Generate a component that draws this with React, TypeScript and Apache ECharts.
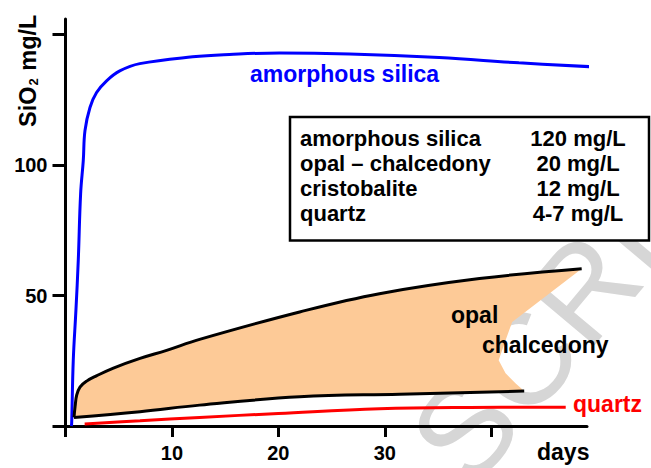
import React, { useEffect, useRef } from "react";
import * as echarts from "echarts";

// ---- data ----
const amorphousDays = [0.55, 0.58, 0.73, 0.98, 1.2, 1.42, 1.67, 1.83, 2.3, 2.92, 3.86, 5.1, 6.98, 11.95, 15.4, 20.1, 26.7, 35.1, 42.6, 49.4];
const amorphousVals = [0, 1.1, 25.2, 44.4, 63.5, 89, 101.7, 113.2, 122.1, 127.8, 132.3, 136.1, 138.9, 141.5, 142.4, 143, 142.6, 141.2, 139.2, 137.7];

const opalUpperDays = [0.8, 0.9, 1.05, 1.36, 1.99, 2.9, 4.5, 7, 9.5, 12.6, 22, 29.5, 38.9, 48.5];
const opalUpperVals = [3.3, 7.4, 11.8, 14.9, 17.2, 19.2, 22.2, 25.9, 29, 33.2, 43.7, 50.7, 56.5, 60.3];

const opalLowerDays = [0.8, 7, 12.6, 22, 31.4, 43.1];
const opalLowerVals = [3.3, 5.5, 8.0, 11.2, 12.2, 13.4];

// right (notched) edge of the shaded opal-chalcedony band, top to bottom
const notchDays = [41.97, 41.35, 40.7, 41.35, 42.3];
const notchVals = [39.9, 32.9, 25.2, 20.2, 16.3];

const quartzDays = [1.8, 7, 12.6, 20, 29.5, 38, 47];
const quartzVals = [0.8, 2, 3.3, 4.8, 6.6, 7.1, 7.2];

const xTicks = [0, 10, 20, 30, 40];
const xLabels = [10, 20, 30];
const yTicks = [0, 50, 100, 150];
const yLabels = [50, 100];

const legendNames = ["amorphous silica", "opal \u2013 chalcedony", "cristobalite", "quartz"];
const legendValues = ["120 mg/L", "20 mg/L", "12 mg/L", "4-7 mg/L"];

const FONT = "'Liberation Sans', Arial, Helvetica, sans-serif";

const zip = (a: number[], b: number[]) => a.map((v, i) => [v, b[i]]);

export default function App() {
  const ref = useRef<HTMLDivElement>(null);
  useEffect(() => {
    if (!ref.current) return;
    const chart = echarts.init(ref.current, undefined, { renderer: "svg" });

    const polyData = [
      ...zip(opalUpperDays, opalUpperVals),
      ...zip(notchDays, notchVals),
      ...zip(opalLowerDays, opalLowerVals).reverse(),
    ];

    const lineSeries = (name: string, data: number[][], color: string) => ({
      type: "line",
      name,
      data,
      smooth: 0.4,
      showSymbol: false,
      symbol: "none",
      clip: false,
      lineStyle: { color, width: 3 },
      z: 5,
    });

    const legendRowY = [138.5, 163, 188, 213];

    const graphics: any[] = [
      {
        type: "text",
        x: 537,
        y: 344,
        rotation: (50 * Math.PI) / 180,
        z: -10,
        silent: true,
        style: {
          text: "SCRI",
          font: `normal 130px ${FONT}`,
          fill: "#d6d6d6",
          align: "center",
          verticalAlign: "middle",
        },
      },
      {
        type: "rect",
        z: 50,
        shape: { x: 290, y: 117, width: 359, height: 123.5 },
        style: { fill: "#ffffff", stroke: "#000000", lineWidth: 2.5 },
      },
      ...legendNames.map((t, i) => ({
        type: "text",
        z: 51,
        x: 300,
        y: legendRowY[i],
        style: { text: t, font: `bold 22px ${FONT}`, fill: "#000", align: "left", verticalAlign: "middle" },
      })),
      ...legendValues.map((t, i) => ({
        type: "text",
        z: 51,
        x: 578,
        y: legendRowY[i],
        style: { text: t, font: `bold 22px ${FONT}`, fill: "#000", align: "center", verticalAlign: "middle" },
      })),
      {
        type: "text",
        z: 51,
        x: 250,
        y: 74,
        style: { text: "amorphous silica", font: `bold 23px ${FONT}`, fill: "#0000ff", align: "left", verticalAlign: "middle" },
      },
      {
        type: "text",
        z: 51,
        x: 451,
        y: 315,
        style: { text: "opal", font: `bold 23px ${FONT}`, fill: "#000", align: "left", verticalAlign: "middle" },
      },
      {
        type: "text",
        z: 51,
        x: 482,
        y: 345,
        style: { text: "chalcedony", font: `bold 23px ${FONT}`, fill: "#000", align: "left", verticalAlign: "middle" },
      },
      {
        type: "text",
        z: 51,
        x: 573,
        y: 403.5,
        style: { text: "quartz", font: `bold 23px ${FONT}`, fill: "#ff0000", align: "left", verticalAlign: "middle" },
      },
      {
        type: "text",
        z: 51,
        x: 537,
        y: 452,
        style: { text: "days", font: `bold 23px ${FONT}`, fill: "#000", align: "left", verticalAlign: "middle" },
      },
      {
        type: "text",
        z: 51,
        x: 28,
        y: 127,
        rotation: Math.PI / 2,
        style: {
          text: "{a|SiO}{s|2}{a| mg/L}",
          align: "left",
          verticalAlign: "middle",
          rich: {
            a: { font: `bold 23.5px ${FONT}`, fill: "#000", lineHeight: 24, verticalAlign: "middle" },
            s: { font: `bold 13px ${FONT}`, fill: "#000", lineHeight: 24, verticalAlign: "bottom", padding: [0, 1, 0, 1] },
          },
        },
      },
    ];

    chart.setOption({
      animation: false,
      backgroundColor: "#ffffff",
      grid: { left: 65.5, right: 64, top: 19, bottom: 42 },
      xAxis: {
        type: "value",
        min: 0,
        max: 49,
        interval: 10,
        splitLine: { show: false },
        axisLine: { show: true, onZero: false, lineStyle: { color: "#000", width: 3 } },
        axisTick: { show: true, length: 11, customValues: xTicks, lineStyle: { color: "#000", width: 3 } },
        axisLabel: {
          customValues: xLabels,
          margin: 17,
          color: "#000",
          fontFamily: FONT,
          fontWeight: "bold",
          fontSize: 20,
        },
      },
      yAxis: {
        type: "value",
        min: 0,
        max: 156,
        interval: 50,
        splitLine: { show: false },
        axisLine: { show: true, onZero: false, lineStyle: { color: "#000", width: 3 } },
        axisTick: { show: true, length: 13, customValues: yTicks, lineStyle: { color: "#000", width: 3 } },
        axisLabel: {
          customValues: yLabels,
          margin: 18,
          color: "#000",
          fontFamily: FONT,
          fontWeight: "bold",
          fontSize: 20,
        },
      },
      series: [
        {
          type: "custom",
          name: "opal-chalcedony band",
          clip: false,
          z: 3,
          data: [[0, 0]],
          renderItem: (_params: any, api: any) => ({
            type: "polygon",
            shape: { points: polyData.map((p) => api.coord(p)) },
            style: { fill: "#fdca97", stroke: "none" },
          }),
        },
        lineSeries("amorphous silica", zip(amorphousDays, amorphousVals), "#0000ff"),
        lineSeries("opal upper", zip(opalUpperDays, opalUpperVals), "#000000"),
        lineSeries("opal lower", zip(opalLowerDays, opalLowerVals), "#000000"),
        lineSeries("quartz", zip(quartzDays, quartzVals), "#ff0000"),
      ],
      graphic: { elements: graphics },
    });
    return () => chart.dispose();
  }, []);
  return <div ref={ref} style={{ width: 651, height: 468, position: "absolute", left: 0, top: 0 }} />;
}
